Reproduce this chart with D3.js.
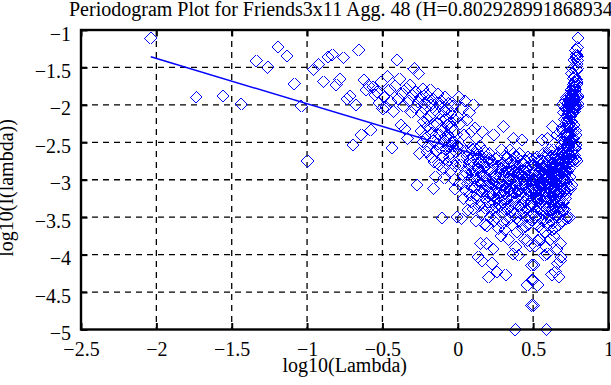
<!DOCTYPE html>
<html><head><meta charset="utf-8">
<script src="https://cdn.jsdelivr.net/npm/d3@7"></script>
<style>body{margin:0;background:#fff}svg{display:block}</style>
</head><body>
<script>
const titleText = "Periodogram Plot for Friends3x11 Agg. 48 (H=0.802928991868934)";
const xLabel = "log10(Lambda)";
const yLabel = "log10(I(lambda))";
const xTicks = [-2.5,-2,-1.5,-1,-0.5,0,0.5,1];
const yTicks = [-1,-1.5,-2,-2.5,-3,-3.5,-4,-4.5,-5];

// low frequencies
const lowFreqPts = [[-2.037,-1.11],[-1.736,-1.89],[-1.559,-1.88],[-1.436,-1.99],[-1.338,-1.41],[-1.26,-1.50],[-1.192,-1.23],[-1.133,-1.35],[-1.084,-1.72],[-1.04,-2.02],[-0.997,-2.75],
[-0.957,-1.53],[-0.923,-1.46],[-0.891,-1.69],[-0.861,-1.36],[-0.833,-1.33],[-0.807,-1.73],[-0.782,-1.66],[-0.758,-1.37],[-0.736,-1.92],[-0.715,-1.88],[-0.695,-2.54],[-0.676,-2.00],[-0.657,-1.27],[-0.640,-2.40],[-0.623,-1.67],[-0.607,-1.80],[-0.591,-1.74],[-0.577,-2.34],[-0.562,-1.76],[-0.548,-1.87],[-0.535,-1.83],[-0.522,-1.98],[-0.509,-1.70],[-0.497,-2.05]];

const midFreqPts = [[-0.488,-1.89],[-0.476,-2.03],[-0.465,-1.62],[-0.452,-1.80],[-0.445,-1.96],[-0.437,-2.58],[-0.426,-2.09],[-0.415,-1.75],[-0.404,-1.40],[-0.394,-1.92],[-0.384,-1.65],[-0.375,-2.27],[-0.366,-1.85],[-0.357,-2.02],[-0.349,-2.32],[-0.341,-1.78],[-0.333,-2.45],[-0.325,-1.95],[-0.316,-1.74],[-0.308,-2.10],[-0.300,-1.88],[-0.293,-1.51],[-0.286,-2.03],[-0.279,-1.82],[-0.272,-3.07],[-0.265,-1.96],[-0.259,-1.58],[-0.253,-2.65],[-0.246,-1.90],[-0.240,-2.11],[-0.234,-1.79],[-0.228,-2.22],[-0.222,-1.98],[-0.216,-2.05],[-0.210,-1.86],[-0.204,-2.63],[-0.199,-2.29],[-0.193,-1.93],[-0.188,-2.15],[-0.182,-1.80],[-0.177,-2.00],[-0.172,-2.38],[-0.166,-1.92],[-0.161,-3.12],[-0.156,-2.76],[-0.151,-2.07],[-0.146,-2.96],[-0.141,-1.97],[-0.137,-2.25],[-0.132,-1.86],[-0.127,-2.12],[-0.123,-2.40],[-0.118,-2.02],[-0.114,-2.20],[-0.109,-1.95],[-0.105,-3.51],[-0.101,-2.30],[-0.096,-2.85],[-0.092,-2.08],[-0.088,-2.48],[-0.084,-1.90],[-0.080,-2.18],[-0.076,-2.60],[-0.072,-2.27],[-0.068,-2.05],[-0.064,-2.40],[-0.060,-1.98],[-0.056,-2.70],[-0.052,-2.45],[-0.048,-2.12],[-0.044,-2.88],[-0.040,-2.30],[-0.036,-2.55],[-0.032,-2.02],[-0.028,-2.36],[-0.024,-3.00],[-0.020,-2.20],[-0.017,-3.12],[-0.013,-2.62],[-0.010,-2.40],[-0.006,-3.50],[-0.003,-2.15]];

const midFreqCorePts = [[-0.245,-2.35],[-0.231,-2.50],[-0.219,-2.42],[-0.207,-2.18],[-0.196,-2.55],[-0.185,-2.32],[-0.174,-2.70],[-0.163,-2.48],[-0.153,-2.28],[-0.143,-2.62],[-0.134,-2.52],[-0.125,-2.80],[-0.116,-2.58],[-0.107,-2.35],[-0.099,-2.68],[-0.090,-2.98],[-0.082,-2.42],[-0.074,-2.78],[-0.066,-2.55],[-0.058,-2.25],[-0.050,-2.65],[-0.042,-2.50],[-0.034,-2.78],[-0.026,-2.50],[-0.018,-2.82],[-0.008,-2.55]];

const highFreqPts = [[0.004,-2.55],[0.008,-1.90],[0.012,-3.05],[0.016,-2.25],[0.020,-2.80],[0.024,-3.52],[0.028,-2.05],[0.032,-2.70],[0.036,-3.25],[0.040,-2.40],[0.044,-2.95],[0.048,-1.95],
[0.052,-2.62],[0.056,-3.15],[0.060,-2.20],[0.064,-2.85],[0.068,-3.40],[0.072,-2.50],[0.076,-2.10],[0.080,-3.00],[0.084,-2.75],[0.088,-3.30],[0.092,-2.35],[0.096,-2.90],[0.099,-2.60],
[0.102,-3.39],[0.105,-2.00],[0.108,-2.80],[0.111,-3.10],[0.114,-2.31],[0.117,-2.65],[0.120,-3.55],[0.123,-2.95],[0.126,-2.45],[0.129,-3.20],[0.132,-2.72],[0.136,-4.03],[0.139,-2.85],[0.143,-3.35],[0.147,-2.55],
[0.150,-3.85],[0.153,-2.90],[0.156,-3.05],[0.160,-4.08],[0.163,-2.36],[0.166,-3.45],[0.169,-2.78],[0.172,-3.15],[0.175,-2.62],[0.178,-3.60],[0.181,-2.95],[0.184,-3.25],[0.187,-2.70],[0.190,-3.85],[0.194,-3.61],[0.197,-3.00],
[0.200,-2.85],[0.203,-3.30],[0.205,-4.30],[0.208,-2.65],[0.211,-3.10],[0.214,-3.50],[0.217,-2.90],[0.220,-3.20],[0.223,-2.75],[0.227,-4.12],[0.230,-3.40],[0.233,-2.98],[0.236,-3.92],[0.238,-2.40],[0.241,-3.05],[0.244,-3.30],[0.247,-2.80],
[0.250,-3.15],[0.253,-2.95],[0.256,-3.50],[0.260,-4.23],[0.263,-2.70],[0.266,-3.25],[0.270,-3.65],[0.273,-2.90],[0.276,-3.05],[0.279,-3.35],[0.282,-2.85],[0.285,-3.75],[0.288,-3.10],[0.291,-2.60],[0.294,-3.45],[0.296,-3.00],[0.298,-3.20],[0.299,-2.78],
[0.302,-2.29],[0.305,-3.15],[0.308,-2.95],[0.311,-3.40],[0.315,-3.67],[0.317,-4.27],[0.320,-2.85],[0.323,-3.05],[0.326,-3.55],[0.329,-2.70],[0.332,-3.25],[0.335,-3.00],[0.338,-3.80],[0.341,-2.90],[0.344,-3.35],[0.346,-2.60],[0.348,-3.12],[0.350,-3.50],
[0.352,-2.95],[0.355,-3.20],[0.357,-2.75],[0.360,-3.60],[0.362,-3.05],[0.365,-2.88],[0.368,-3.99],[0.370,-2.45],[0.373,-3.30],[0.375,-3.10],[0.378,-2.80],[0.380,-3.45],[0.382,-5.00],[0.384,-3.90],[0.387,-3.00],[0.389,-2.70],[0.391,-3.25],[0.394,-3.70],[0.396,-2.92],[0.399,-3.15],
[0.402,-4.01],[0.404,-2.85],[0.407,-3.35],[0.409,-3.05],[0.412,-2.65],[0.414,-3.55],[0.417,-3.20],[0.419,-2.95],[0.422,-3.40],[0.426,-2.47],[0.428,-3.65],[0.431,-3.10],[0.434,-2.80],[0.437,-3.30],[0.440,-3.00],[0.443,-3.80],[0.445,-2.90],[0.447,-3.20],[0.449,-3.50],[0.450,-2.75],
[0.452,-3.05],[0.455,-3.40],[0.457,-2.95],[0.460,-4.41],[0.462,-3.81],[0.465,-3.15],[0.467,-2.70],[0.470,-3.60],[0.472,-3.25],[0.475,-2.88],[0.478,-3.50],[0.480,-3.88],[0.482,-3.00],[0.485,-3.35],[0.487,-2.80],[0.490,-4.14],[0.491,-4.68],[0.493,-3.10],[0.495,-4.34],[0.497,-3.45]];

const highFreqCorePts = [[0.053,-2.90],[0.061,-2.68],[0.067,-3.05],[0.074,-2.80],[0.082,-3.20],[0.089,-2.58],[0.095,-3.10],[0.103,-2.70],[0.109,-3.00],[0.116,-2.88],[0.122,-3.25],[0.128,-2.60],[0.134,-3.05],[0.141,-2.78],[0.148,-3.15],[0.154,-2.68],[0.159,-3.30],[0.165,-2.92],[0.171,-3.02],[0.177,-2.84],[0.183,-3.38],[0.189,-3.08],[0.195,-2.76],[0.201,-3.02],[0.206,-3.18],[0.212,-2.72],[0.218,-3.35],[0.224,-3.05],[0.229,-2.88],[0.235,-3.22],[0.240,-3.55],[0.246,-2.95],[0.251,-2.72],[0.257,-3.10],[0.262,-3.38],[0.268,-2.82],[0.274,-3.18],[0.280,-2.98],[0.286,-3.28],[0.292,-2.90],[0.297,-3.58],[0.303,-2.82],[0.309,-3.28],[0.314,-2.68],[0.319,-3.10],[0.325,-2.90],[0.331,-3.40],[0.336,-2.78],[0.342,-3.15],[0.347,-3.00],[0.353,-3.42],[0.358,-2.85],[0.363,-3.25],[0.369,-2.65],[0.374,-3.00],[0.379,-3.18],[0.385,-2.90],[0.390,-3.52],[0.395,-3.08],[0.400,-2.82],[0.405,-3.15],[0.410,-2.92],[0.416,-3.45],[0.421,-2.75],[0.427,-3.05],[0.432,-3.25],[0.438,-2.88],[0.444,-3.10],[0.448,-3.62],[0.453,-2.85],[0.458,-3.25],[0.463,-3.00],[0.468,-3.42],[0.474,-2.95],[0.479,-3.15],[0.484,-2.72],[0.489,-3.30],[0.494,-3.00]];

const upperBandPts = [[0.722,-2.55],[0.721,-1.90],[0.720,-3.05],[0.719,-2.25],[0.718,-2.80],[0.717,-3.52],[0.716,-2.05],[0.715,-2.70],[0.714,-3.25],[0.713,-2.40],[0.712,-2.95],[0.711,-1.95],[0.710,-2.62],[0.709,-3.15],[0.708,-2.20],[0.707,-2.85],[0.706,-3.40],[0.705,-2.50],[0.704,-2.10],[0.703,-3.00],[0.702,-2.75],[0.701,-3.30],[0.700,-2.35],[0.699,-2.90],[0.698,-2.60],[0.697,-3.39],[0.696,-2.00],[0.695,-2.80],[0.694,-3.10],[0.693,-2.31],[0.692,-2.65],[0.691,-3.55],[0.690,-2.95],[0.689,-2.45],[0.688,-3.20],[0.687,-2.72],[0.686,-4.03],[0.685,-2.85],[0.684,-3.35],[0.683,-2.55],[0.682,-3.85],[0.681,-2.90],[0.680,-3.05],[0.679,-4.08],[0.678,-2.36],[0.677,-3.45],[0.676,-2.78],[0.675,-3.15],[0.674,-2.62],[0.673,-3.60],[0.672,-2.95],
[0.671,-3.30],[0.670,-4.30],[0.669,-2.65],[0.668,-3.10],[0.667,-3.50],[0.666,-2.90],[0.665,-3.20],[0.664,-2.75],[0.662,-4.12],[0.661,-3.40],[0.660,-2.98],[0.659,-3.92],[0.658,-2.40],[0.657,-3.05],[0.656,-3.30],[0.655,-2.80],
[0.653,-3.15],[0.652,-2.95],[0.651,-3.50],[0.648,-4.23],[0.647,-2.70],[0.646,-3.25],[0.644,-3.65],[0.643,-2.90],[0.642,-3.05],[0.640,-3.35],[0.639,-2.85],[0.638,-3.75],[0.637,-3.10],[0.636,-2.60],[0.635,-3.45],[0.634,-3.00],[0.633,-3.20],[0.632,-2.78],
[0.631,-2.29],[0.629,-3.15],[0.628,-2.95],[0.626,-3.40],[0.624,-3.67],[0.623,-4.27],[0.621,-2.85],[0.620,-3.05],[0.618,-3.55],[0.616,-2.70],[0.615,-3.25],[0.613,-3.00],[0.612,-3.80],[0.610,-2.90],[0.609,-3.35],[0.608,-2.60],[0.607,-3.12],[0.606,-3.50],
[0.605,-2.95],[0.603,-3.20],[0.602,-2.75],[0.600,-3.60],[0.599,-3.05],[0.597,-2.88],[0.595,-3.99],[0.594,-2.45],[0.592,-3.30],[0.590,-3.10],[0.589,-2.80],[0.588,-3.45],[0.587,-5.00],[0.585,-3.90],[0.584,-3.00],[0.582,-2.70],[0.581,-3.25],[0.579,-3.70],[0.578,-2.92],[0.577,-3.15],
[0.575,-4.01],[0.573,-2.85],[0.571,-3.35],[0.569,-3.05],[0.567,-2.65],[0.565,-3.55],[0.563,-3.20],[0.562,-2.95],[0.560,-3.40],[0.557,-2.47],[0.555,-3.65],[0.553,-3.10],[0.551,-2.80],[0.549,-3.30],[0.547,-3.00],[0.545,-3.80],[0.543,-2.90],[0.542,-3.20],[0.541,-3.50],[0.540,-2.75],
[0.538,-3.05],[0.536,-3.40],[0.534,-2.95],[0.531,-4.41],[0.529,-3.81],[0.527,-3.15],[0.525,-2.70],[0.522,-3.60],[0.520,-3.25],[0.518,-2.88],[0.515,-3.50],[0.513,-3.88],[0.511,-3.00],[0.508,-3.35],[0.506,-2.80],[0.504,-4.14],[0.503,-4.68],[0.501,-3.10],[0.499,-4.34],[0.498,-3.45]];

const upperBandCorePts = [[0.502,-3.00],[0.506,-3.25],[0.510,-2.72],[0.514,-3.15],[0.517,-2.95],[0.521,-3.42],[0.524,-3.00],[0.528,-3.25],[0.532,-2.85],[0.535,-3.62],[0.539,-3.10],[0.544,-2.88],[0.548,-3.25],[0.552,-3.05],[0.556,-2.75],[0.561,-3.45],[0.564,-2.92],[0.568,-3.15],[0.572,-2.82],[0.576,-3.08],[0.580,-3.52],[0.583,-2.90],[0.586,-3.18],[0.591,-3.00],[0.596,-2.65],[0.598,-3.25],[0.601,-2.85],[0.604,-3.42],[0.609,-3.00],[0.611,-3.15],[0.614,-2.78],[0.617,-3.40],[0.619,-2.90],[0.622,-3.10],[0.625,-2.68],[0.627,-3.28],[0.630,-2.82],[0.633,-3.58],[0.637,-2.90],[0.640,-3.28],[0.643,-2.98],[0.645,-3.18],[0.649,-2.82],[0.650,-3.38],[0.654,-3.10],[0.657,-2.72],[0.660,-2.95],[0.663,-3.22],[0.666,-3.35],[0.668,-2.88],[0.671,-2.72],[0.674,-3.18],[0.676,-3.02],[0.679,-2.76],[0.682,-3.08],[0.684,-3.38],[0.687,-2.84],[0.690,-3.02],[0.693,-2.92],[0.696,-3.30],[0.699,-2.68],[0.703,-3.15],[0.706,-2.78],[0.709,-3.00],[0.712,-2.58],[0.715,-3.20],[0.718,-2.88],[0.720,-3.05]];

const topBandPts = [[0.7751,-1.89],[0.7744,-2.03],[0.7737,-1.62],[0.7729,-1.80],[0.7725,-1.96],[0.7720,-2.58],[0.7714,-2.09],[0.7707,-1.75],[0.7700,-1.40],[0.7693,-1.92],[0.7686,-1.65],[0.7679,-2.27],[0.7672,-1.85],[0.7665,-2.02],[0.7659,-2.32],[0.7653,-1.78],[0.7647,-2.45],[0.7640,-1.95],[0.7633,-1.74],[0.7627,-2.10],[0.7621,-1.88],[0.7614,-1.51],[0.7607,-2.03],[0.7600,-1.82],[0.7593,-3.07],[0.7586,-1.96],[0.7580,-1.58],[0.7574,-2.65],[0.7567,-1.90],[0.7561,-2.11],[0.7555,-1.79],[0.7549,-2.22],[0.7543,-1.98],[0.7537,-2.05],[0.7531,-1.86],[0.7525,-2.63],[0.7521,-2.29],[0.7513,-1.93],[0.7507,-2.15],[0.7499,-1.80],[0.7493,-2.00],[0.7486,-2.38],[0.7479,-1.92],[0.7472,-3.12],[0.7466,-2.76],[0.7460,-2.07],[0.7453,-2.96],[0.7447,-1.97],[0.7442,-2.25],[0.7436,-1.86],[0.7429,-2.12],[0.7424,-2.40],[0.7418,-2.02],[0.7413,-2.20],[0.7406,-1.95],[0.7401,-3.51],[0.7396,-2.30],[0.7388,-2.85],[0.7382,-2.08],[0.7375,-2.48],[0.7368,-1.90],[0.7362,-2.18],[0.7355,-2.60],[0.7348,-2.27],[0.7342,-2.05],[0.7335,-2.40],[0.7328,-1.98],[0.7322,-2.70],[0.7315,-2.45],[0.7309,-2.12],[0.7302,-2.88],[0.7295,-2.30],[0.7289,-2.55],[0.7282,-2.02],[0.7275,-2.36],[0.7269,-3.00],[0.7262,-2.20],[0.7257,-3.12],[0.7251,-2.62],[0.7246,-2.40],[0.7239,-3.50],[0.7234,-2.15],
[0.7902,-1.53],[0.7898,-1.46],[0.7892,-1.69],[0.7886,-1.36],[0.7879,-1.33],[0.7873,-1.73],[0.7866,-1.66],[0.7859,-1.37],[0.7853,-1.92],[0.7847,-1.88],[0.7840,-2.54],[0.7833,-2.00],[0.7826,-1.27],[0.7820,-2.40],[0.7814,-1.67],[0.7808,-1.80],[0.7801,-1.74],[0.7795,-2.34],[0.7788,-1.76],[0.7781,-1.87],[0.7774,-1.83],[0.7768,-1.98],[0.7762,-1.70],[0.7756,-2.05],
[0.7976,-1.11],[0.7969,-1.89],[0.7963,-1.88],[0.7956,-1.99],[0.7950,-1.41],[0.7944,-1.50],[0.7937,-1.23],[0.7931,-1.35],[0.7924,-1.72],[0.7918,-2.02],[0.7912,-2.75]];

const topBandCorePts = [[0.7245,-2.65],[0.7290,-2.50],[0.7335,-2.72],[0.7380,-2.55],[0.7425,-2.68],[0.7470,-2.50],[0.7515,-2.70],[0.7560,-2.45],[0.7605,-2.62],[0.7650,-2.75],[0.7695,-2.52],[0.7740,-2.68],[0.7785,-2.58],[0.7830,-2.72]];

const fitX = [-2.037, 0.235];
const fitY = [-1.357, -2.734];

const W = 611, H = 385;
const m = {left: 81, right: 608.5, top: 30, bottom: 329.5};
const FONT = "'Liberation Serif','Times New Roman',Times,serif";

const x = d3.scaleLinear().domain([-2.5, 1]).range([m.left, m.right]);
const y = d3.scaleLinear().domain([-5, -1]).range([m.bottom, m.top]);
const fmt = d => (d < 0 ? "\u2212" : "") + Math.abs(d);

const svg = d3.select("body").append("svg").attr("width", W).attr("height", H)
  .style("font-family", FONT);

// grid
const grid = svg.append("g").attr("stroke", "#000").attr("stroke-width", 1.3)
  .attr("stroke-dasharray", "6,5");
grid.selectAll(".gx").data(xTicks.slice(1, -1)).join("line")
  .attr("x1", d => x(d)).attr("x2", d => x(d)).attr("y1", m.top).attr("y2", m.bottom);
grid.selectAll(".gy").data(yTicks.slice(1, -1)).join("line")
  .attr("y1", d => y(d)).attr("y2", d => y(d)).attr("x1", m.left).attr("x2", m.right);

// points
const allPts = [lowFreqPts, midFreqPts, midFreqCorePts, highFreqPts, highFreqCorePts,
  upperBandPts, upperBandCorePts, topBandPts, topBandCorePts];
const sym = d3.symbol().type(d3.symbolSquare).size(75);
const pg = svg.append("g").attr("fill", "none").attr("stroke", "#0000ff").attr("stroke-width", 1)
  .attr("shape-rendering", "crispEdges");
allPts.forEach(arr => {
  pg.append("g").selectAll("path").data(arr).join("path")
    .attr("d", sym)
    .attr("transform", d => `translate(${x(d[0])},${y(d[1])}) rotate(45)`);
});

// fit line
svg.append("path")
  .datum(fitX.map((v, i) => [v, fitY[i]]))
  .attr("fill", "none").attr("stroke", "#0000ff").attr("stroke-width", 1.5)
  .attr("d", d3.line().x(d => x(d[0])).y(d => y(d[1])));

// axes
const TL = 6.5;
const axB = svg.append("g").attr("transform", `translate(0,${m.bottom})`)
  .call(d3.axisBottom(x).tickValues(xTicks).tickSizeInner(-TL).tickSizeOuter(0).tickFormat(fmt));
axB.selectAll("text").attr("y", 26).attr("dy", null);
const axT = svg.append("g").attr("transform", `translate(0,${m.top})`)
  .call(d3.axisTop(x).tickValues(xTicks).tickSizeInner(-TL).tickSizeOuter(0).tickFormat(""));
const axL = svg.append("g").attr("transform", `translate(${m.left},0)`)
  .call(d3.axisLeft(y).tickValues(yTicks).tickSizeInner(-TL).tickSizeOuter(0).tickFormat(fmt));
axL.selectAll("text").attr("x", -10).attr("y", 10).attr("dy", null);
const axR = svg.append("g").attr("transform", `translate(${m.right},0)`)
  .call(d3.axisRight(y).tickValues(yTicks).tickSizeInner(-TL).tickSizeOuter(0).tickFormat(""));
[axB, axT, axL, axR].forEach(a => {
  a.select(".domain").remove();
  a.selectAll("line").attr("stroke", "#000").attr("stroke-width", 2);
  a.selectAll("text").attr("fill", "#000").style("font-size", "20px").style("font-family", FONT);
});

// box
svg.append("rect").attr("x", m.left).attr("y", m.top)
  .attr("width", m.right - m.left).attr("height", m.bottom - m.top)
  .attr("fill", "none").attr("stroke", "#000").attr("stroke-width", 2.4);

// titles
svg.append("text").attr("x", 69).attr("y", 16).attr("fill", "#000")
  .style("font-size", "20px").text(titleText);
svg.append("text").attr("x", (m.left + m.right) / 2).attr("y", 372).attr("text-anchor", "middle")
  .attr("fill", "#000").style("font-size", "20px").text(xLabel);
svg.append("text").attr("transform", "translate(13,188) rotate(-90)").attr("text-anchor", "middle")
  .attr("fill", "#000").style("font-size", "20px").text(yLabel);
</script>
</body></html>
